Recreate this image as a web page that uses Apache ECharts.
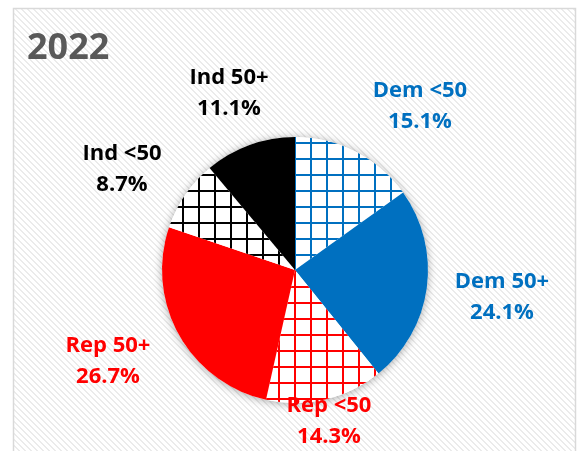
<!DOCTYPE html>
<html>
<head>
<meta charset="utf-8">
<script src="https://cdn.jsdelivr.net/npm/echarts@6/dist/echarts.min.js"></script>
<style>
html,body{margin:0;padding:0;background:#fff;}
#chart{width:580px;height:451px;}
</style>
</head>
<body>
<div id="chart"></div>
<script>
// ---- data ----
var title = '2022';
var categories = ['Dem <50', 'Dem 50+', 'Rep <50', 'Rep 50+', 'Ind <50', 'Ind 50+'];
var shares = [15.1, 24.1, 14.3, 26.7, 8.7, 11.1];

// ---- styling / layout ----
var partyColors = ['#0070C0', '#0070C0', '#FF0000', '#FF0000', '#000000', '#000000'];
var hatched = [true, false, true, false, true, false];
var labelPos = [[420, 106], [502, 297], [329, 421], [108, 361], [122, 169], [229, 93]];

function gridPattern(color) {
  var c = document.createElement('canvas');
  c.width = 16; c.height = 16;
  var g = c.getContext('2d');
  g.fillStyle = '#ffffff';
  g.fillRect(0, 0, 16, 16);
  g.fillStyle = color;
  g.fillRect(6, 0, 2, 16);
  g.fillRect(0, 14, 16, 2);
  return { image: c, repeat: 'repeat' };
}
function stripePattern() {
  var s = 6;
  var c = document.createElement('canvas');
  c.width = s; c.height = s;
  var g = c.getContext('2d');
  g.fillStyle = '#ffffff';
  g.fillRect(0, 0, s, s);
  g.fillStyle = '#ebebeb';
  for (var i = 0; i < s; i++) {
    g.fillRect(i, i, 1, 1);
    g.fillRect((i + 1) % s, i, 1, 1);
  }
  return { image: c, repeat: 'repeat' };
}

var pieData = categories.map(function (name, i) {
  return {
    name: name,
    value: shares[i],
    itemStyle: { color: hatched[i] ? gridPattern(partyColors[i]) : partyColors[i] },
    label: { color: partyColors[i] }
  };
});

var chart = echarts.init(document.getElementById('chart'), null, { renderer: 'canvas' });
chart.setOption({
  animation: false,
  backgroundColor: '#ffffff',
  graphic: [
    {
      type: 'rect', z: -10, silent: true,
      shape: { x: 13.5, y: 8.5, width: 562, height: 470 },
      style: { fill: stripePattern(), stroke: '#d9d9d9', lineWidth: 1.5 }
    },
    {
      type: 'text', z: 10, silent: true,
      left: 27, top: 31,
      style: {
        text: title, fill: '#595959',
        font: 'bold 36px "Open Sans", sans-serif'
      }
    }
  ],
  series: [
    {
      type: 'pie', silent: true, z: 1,
      center: [295, 270], radius: 133,
      label: { show: false }, labelLine: { show: false },
      itemStyle: { color: '#ffffff', shadowBlur: 8, shadowColor: 'rgba(0,0,0,0.35)', shadowOffsetY: 1 },
      emphasis: { disabled: true },
      data: [{ value: 1, name: '' }]
    },
    {
      type: 'pie', silent: true, z: 2,
      center: [295, 270], radius: 133,
      startAngle: 90, clockwise: true,
      emphasis: { disabled: true },
      itemStyle: { borderWidth: 0 },
      labelLine: { show: false },
      label: {
        show: true,
        position: 'outside',
        fontFamily: '"Open Sans", sans-serif',
        fontWeight: 'bold',
        fontSize: 22,
        lineHeight: 31,
        align: 'center',
        overflow: 'none',
        width: 140,
        formatter: function (p) { return p.name + '\n' + p.value.toFixed(1) + '%'; }
      },
      labelLayout: function (p) {
        var pos = labelPos[p.dataIndex];
        return { x: pos[0], y: pos[1], align: 'center', verticalAlign: 'middle', hideOverlap: false };
      },
      data: pieData
    }
  ]
});
</script>
</body>
</html>
